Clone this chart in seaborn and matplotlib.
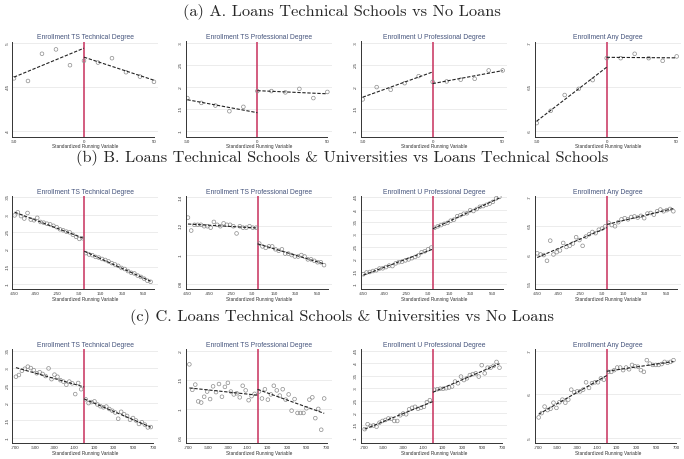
import numpy as np
import matplotlib.pyplot as plt
import seaborn as sns

sns.set_style("white")
plt.rcParams['font.family'] = ['Liberation Sans', 'DejaVu Sans']

# ---------------- data ---------------- #
section_titles = ["(a) A. Loans Technical Schools vs No Loans",
                  "(b) B. Loans Technical Schools & Universities vs Loans Technical Schools",
                  "(c) C. Loans Technical Schools & Universities vs No Loans"]
panel_titles = ["Enrollment TS Technical Degree", "Enrollment TS Professional Degree",
                "Enrollment U Professional Degree", "Enrollment Any Degree"]

xa_left = [-50, -40, -30, -20, -10]
xa_right = [0, 10, 20, 30, 40, 50]
xb_left = [-645, -615, -585, -555, -525, -495, -465, -435, -405, -375, -345,
           -315, -285, -255, -225, -195, -165, -135, -105, -75, -45, -15]
xb_right = [15, 45, 75, 105, 135, 165, 195, 225, 255, 285, 315, 345, 375,
            405, 435, 465, 495, 525, 555, 585, 615]
xc_left = [-690, -660, -630, -600, -570, -540, -510, -480, -450, -420, -390, -360,
           -330, -300, -270, -240, -210, -180, -150, -120, -90, -60, -30]
xc_right = [15, 45, 75, 105, 135, 165, 195, 225, 255, 285, 315, 345, 375, 405,
            435, 465, 495, 525, 555, 585, 615, 645, 675]

xticks_a = [-50, 0, 50]
xticks_b = [-650, -450, -250, -50, 150, 350, 550]
xticks_c = [-700, -500, -300, -100, 100, 300, 500, 700]

# row a
a1_left = [.460, .457, .488, .493, .475]
a1_right = [.480, .478, .483, .467, .462, .456]
a2_left = [.175, .164, .158, .145, .155]
a2_right = [.191, .191, .188, .196, .175, .189]
a3_left = [.172, .200, .194, .209, .225]
a3_right = [.212, .213, .217, .219, .238, .238]
a4_left = [.609, .623, .641, .648, .658]
a4_right = [.683, .683, .688, .683, .680, .685]

# row b
b1_left = [.298, .307, .296, .289, .305, .286, .284, .291, .279, .277, .274,
           .272, .268, .264, .258, .255, .251, .249, .242, .236, .230, .232]
b1_right = [.189, .185, .183, .178, .176, .172, .169, .165, .160, .156, .152,
            .146, .143, .137, .132, .130, .124, .120, .115, .109, .106]
b2_left = [.126, .117, .121, .121, .121, .120, .120, .119, .123, .121, .120,
           .122, .121, .121, .120, .115, .120, .119, .119, .120, .119, .119]
b2_right = [.108, .106, .105, .106, .106, .104, .103, .104, .101, .101, .100,
            .099, .099, .100, .099, .097, .097, .096, .095, .095, .093]
b3_left = [.139, .146, .148, .152, .155, .162, .163, .168, .174, .172, .183,
           .188, .190, .195, .199, .204, .209, .215, .228, .232, .240, .247]
b3_right = [.327, .333, .338, .343, .347, .356, .360, .374, .378, .384, .386,
            .398, .395, .403, .412, .415, .420, .425, .432, .446, .452]
b4_left = [.603, .601, .600, .590, .625, .601, .605, .608, .621, .614, .616,
           .620, .631, .626, .616, .632, .636, .640, .638, .644, .646, .650]
b4_right = [.656, .652, .650, .657, .662, .664, .662, .666, .667, .665, .668,
            .664, .672, .673, .670, .676, .679, .676, .678, .680, .676]

# row c
c1_left = [.276, .281, .293, .299, .305, .301, .295, .286, .289, .284, .278, .300,
           .269, .282, .276, .266, .262, .253, .262, .257, .226, .258, .240]
c1_right = [.211, .200, .203, .205, .196, .191, .188, .190, .183, .178, .173, .155,
            .175, .168, .163, .152, .157, .150, .140, .145, .138, .130, .131]
c2_left = [.177, .133, .142, .113, .111, .121, .130, .117, .139, .129, .143, .121,
           .138, .145, .130, .125, .127, .120, .140, .132, .115, .122, .126]
c2_right = [.130, .118, .134, .116, .125, .140, .132, .123, .134, .116, .125, .097,
            .117, .093, .093, .093, .101, .116, .120, .084, .100, .064, .118]
c3_left = [.135, .155, .148, .150, .145, .161, .168, .172, .178, .177, .168, .168,
           .191, .198, .195, .215, .221, .225, .217, .221, .225, .244, .252]
c3_right = [.294, .296, .298, .298, .300, .303, .307, .327, .320, .347, .333, .340,
            .353, .357, .360, .347, .393, .360, .383, .383, .390, .406, .383]
c4_left = [.547, .557, .572, .564, .567, .581, .569, .582, .588, .581, .588, .611,
           .605, .607, .607, .611, .628, .615, .626, .628, .628, .637, .634]
c4_right = [.652, .652, .656, .662, .662, .656, .662, .658, .668, .665, .664, .656,
            .652, .679, .671, .668, .668, .668, .670, .675, .673, .675, .679]

yticks_a = [[.4, .45, .5], [.1, .15, .2, .25, .3], [.1, .15, .2, .25, .3], [.6, .65, .7]]
yticks_b = [[.1, .15, .2, .25, .3, .35], [.08, .1, .12, .14],
            [.1, .15, .2, .25, .3, .35, .4, .45], [.55, .6, .65, .7]]
yticks_c = [[.1, .15, .2, .25, .3, .35], [.05, .1, .15, .2],
            [.1, .15, .2, .25, .3, .35, .4, .45], [.5, .6, .7]]

rows = [
    dict(xl=xa_left, xr=xa_right, xticks=xticks_a, xlim=(-51.2, 53.1), xend=50,
         left=[a1_left, a2_left, a3_left, a4_left],
         right=[a1_right, a2_right, a3_right, a4_right], yticks=yticks_a,
         top=41.5, bottom=136.5, title_y=12),
    dict(xl=xb_left, xr=xb_right, xticks=xticks_b, xlim=(-666, 686), xend=650,
         left=[b1_left, b2_left, b3_left, b4_left],
         right=[b1_right, b2_right, b3_right, b4_right], yticks=yticks_b,
         top=195.7, bottom=289.3, title_y=158),
    dict(xl=xc_left, xr=xc_right, xticks=xticks_c, xlim=(-727, 751), xend=700,
         left=[c1_left, c2_left, c3_left, c4_left],
         right=[c1_right, c2_right, c3_right, c4_right], yticks=yticks_c,
         top=349.3, bottom=443.3, title_y=317),
]

# ---------------- figure ---------------- #
W, H = 684, 459
fig = plt.figure(figsize=(W / 100, H / 100), dpi=100)
col_left = [12.3, 185.7, 361, 535]
col_w = 146

def fmt(v):
    s = f"{v:g}"
    return s[1:] if s.startswith("0.") else s

for r, row in enumerate(rows):
    fig.text(0.5, 1 - row["title_y"] / H, section_titles[r], family="cmr10",
             fontsize=11.8, ha="center", va="center")
    for c in range(4):
        ax = fig.add_axes([col_left[c] / W, 1 - row["bottom"] / H,
                           col_w / W, (row["bottom"] - row["top"]) / H])
        yt = row["yticks"][c]
        rng = yt[-1] - yt[0]
        ax.set_ylim(yt[0] - 0.063 * rng, yt[-1] + 0.02 * rng)
        ax.set_xlim(*row["xlim"])

        ax.yaxis.grid(True, color="#e4e4e4", lw=0.5)
        ax.set_axisbelow(True)
        ax.axvline(0, color="#c8305c", lw=1.1, zorder=1)

        for xs, ys in [(row["xl"], row["left"][c]), (row["xr"], row["right"][c])]:
            sns.scatterplot(x=xs, y=ys, ax=ax, marker="o", s=7,
                            facecolor="none", edgecolor="#8c8c8c", linewidth=0.5,
                            zorder=2)
        # linear fits on each side of the cutoff
        k, b = np.polyfit(row["xl"], row["left"][c], 1)
        xs = np.array([row["xl"][0], 0])
        ax.plot(xs, k * xs + b, color="#222222", lw=0.8, dashes=(3, 1.5), zorder=3)
        k, b = np.polyfit(row["xr"], row["right"][c], 1)
        xs = np.array([0, row["xr"][-1]])
        ax.plot(xs, k * xs + b, color="#222222", lw=0.8, dashes=(3, 1.5), zorder=3)

        ax.set_xticks(row["xticks"])
        ax.set_xticklabels([str(t) for t in row["xticks"]])
        ax.set_yticks(yt)
        ax.set_yticklabels([fmt(v) for v in yt], rotation=90, va="center")
        ax.tick_params(length=1.5, width=0.4, pad=0.8, labelsize=3.2,
                       colors="#333333")
        for s in ["top", "right"]:
            ax.spines[s].set_visible(False)
        for s in ["left", "bottom"]:
            ax.spines[s].set_linewidth(0.7)
            ax.spines[s].set_color("#333333")
        ax.spines["bottom"].set_bounds(row["xlim"][0], row["xend"])
        ax.set_title(panel_titles[c], fontsize=4.9, color="#46557d", pad=1.5)
        ax.set_xlabel("Standardized Running Variable", fontsize=3.4,
                      color="#333333", labelpad=0.3)
        ax.set_ylabel("")

fig.savefig("out.png", dpi=100)
